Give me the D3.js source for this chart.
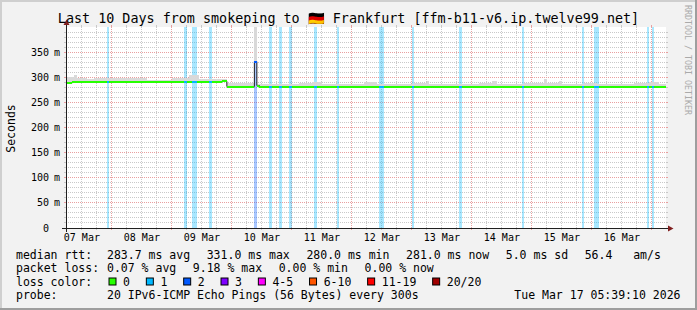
<!DOCTYPE html>
<html><head><meta charset="utf-8">
<script src="https://cdn.jsdelivr.net/npm/d3@7"></script>
<style>
html,body{margin:0;padding:0;background:#f2f2f2;}
svg{display:block;}
text{font-family:"DejaVu Sans Mono",monospace;fill:#000;white-space:pre;}
</style></head><body>
<svg id="c" width="697" height="310"></svg>
<script>
// ---------------- data ----------------
const titleText = "Last 10 Days from smokeping to \u{1F1E9}\u{1F1EA} Frankfurt [ffm-b11-v6.ip.twelve99.net]";
const yAxisTitle = "Seconds";
const watermark = "RRDTOOL / TOBI OETIKER";
const endTime = "2026-03-17T05:39:10Z";
const spanDays = 10;
const firstBin = "2026-03-07T05:00:00Z";   // hourly bins
const yTicks = [0, 50, 100, 150, 200, 250, 300, 350];
const yTickUnit = "m";

// median rtt per hourly bin (ms)
const median = [
288,288,288,290,290,290,290,290,290,290,290,290,290,290,290,290,290,290,290,290,
290,290,290,290,290,290,290,290,290,290,290,290,290,290,290,290,290,290,290,290,
290,290,290,290,290,290,290,290,290,290,290,290,290,290,290,290,290,290,290,290,
290,290,290,292,292,281.5,281.5,281.5,281.5,281.5,281.5,281.5,281.5,281.5,281.5,281.5,331,283.5,281.5,281.5,
281.5,281.5,281.5,281.5,281.5,281.5,281.5,281.5,281.5,281.5,281.5,281.5,281.5,281.5,281.5,281.5,281.5,281.5,281.5,281.5,
281.5,281.5,281.5,281.5,281.5,281.5,281.5,281.5,280,280,280,280,280,280,281.5,281.5,281.5,280,280,280,
280,280,280,281.5,281.5,281.5,281.5,281.5,281.5,281.5,281.5,281.5,280,281.5,281.5,281.5,281.5,281.5,281.5,281.5,
281.5,281.5,281.5,281.5,281.5,281.5,281.5,281.5,281.5,281.5,281.5,281.5,281.5,281.5,281.5,281.5,281.5,281.5,281.5,281.5,
281.5,281.5,281.5,281.5,281.5,281.5,281.5,281.5,281.5,281.5,281.5,281.5,281.5,281.5,281.5,281.5,281.5,281.5,281.5,281.5,
281.5,281.5,281.5,281.5,281.5,281.5,281.5,281.5,281.5,281.5,281.5,281.5,281.5,281.5,281.5,281.5,281.5,281.5,281.5,281.5,
281.5,281.5,281.5,281.5,281.5,281.5,281.5,281.5,281.5,281.5,281.5,281.5,281.5,281.5,281.5,281.5,281.5,281.5,281.5,281.5,
281.5,281.5,281.5,281.5,281.5,281.5,281.5,281.5,281.5,281.5,281.5,281.5,281.5,281.5,281.5,281.5,281.5,281.5,281.5,281.5,
281
];
// upper edge of the smoke per hourly bin (ms)
const smokeTop = [
300,300,300,300,304,298,298,298,298,296,296,296,298,298,298,298,298,299,299,299,
299,299,299,299,299,298,298,298,298,298,298,298,298,295,295,295,295,295,295,295,
295,295,295,298,298,298,298,298,298,298,304,304,304,304,296,296,296,296,296,296,
296,296,296,296,296,288,288,288,288,288,288,288,288,288,288,288,460,286.5,286.5,286.5,
286.5,286.5,286.5,286.5,286.5,286.5,286.5,286.5,286.5,286.5,286.5,286.5,286.5,286.5,289,289,289,289,289,290,
290,290,290,286,286,286,286,286,286,286,286,286,286,286,286,286,286,286,286,286,
290,290,290,290,290,286,286,286,286,286,286,286,286,286,286,286,286,286,286,286,
289,289,289,289,289,293,286,286,286,286,286,286,286,286,286,286,286,286,287,287,
287,287,287,287,287,287,289,289,289,289,289,292,292,286,286,286,286,286,286,286,
286,286,286,286,289,289,289,289,289,289,289,289,296,289,289,289,289,289,293,286.5,
286.5,286.5,286.5,286.5,286.5,286.5,286.5,286.5,289,289,289,289,289,286,286,286,286,286,286,286,
286,286,286,286,286,286,286,286,288,288,288,288,288,288,291,291,291,291,286,286,
286
];
// bins with packet loss (index into the hourly arrays) and average lost pings
const lossBins   = [17, 48, 51, 52, 58, 76, 82, 86, 90, 100, 109, 126, 127, 139, 158, 183, 207, 212, 213, 233, 235];
const lossValues = [0.08,0.08,0.08,0.08,0.08,1.84,0.08,0.08,0.08,0.08,0.08,0.08,0.08,0.08,0.08,0.08,0.08,0.08,0.08,0.08,0.08];

const lossLabels = ["0", "1", "2", "3", "4-5", "6-10", "11-19", "20/20"];
const lossLimits = [0, 1, 2, 3, 5, 10, 19, 20];
const lossColors = ["#26ff00", "#00b8ff", "#0059ff", "#7e00ff", "#ff00fe", "#ff5500", "#ff0000", "#a10000"];

const rttLabel = "median rtt:";
const rttStats = ["283.7 ms avg", "331.0 ms max", "280.0 ms min", "281.0 ms now", "5.0 ms sd", "56.4   am/s"];
const lossLabel = "packet loss:";
const lossStats = ["0.07 % avg", "9.18 % max", "0.00 % min", "0.00 % now"];
const colorLabel = "loss color:";
const probeLabel = "probe:";
const probeText = "20 IPv6-ICMP Echo Pings (56 Bytes) every 300s";
const stampText = "Tue Mar 17 05:39:10 2026";

// ---------------- layout ----------------
const W = 697, H = 310;
const X0 = 66, X1 = 666, Y0 = 228, Y1 = 27;
const svg = d3.select("#c");

const end = new Date(endTime);
const start = new Date(+end - spanDays * 864e5);
const x = d3.scaleUtc().domain([start, end]).range([X0, X1]);
const y = d3.scaleLinear().domain([0, 400]).range([Y0, Y1]);
const t0 = new Date(firstBin);
const binT = i => d3.utcHour.offset(t0, i);
const lossClass = v => { for (let j = 0; j < lossLimits.length; j++) if (v <= lossLimits[j]) return j; return lossLimits.length - 1; };
const lossOf = new Map(lossBins.map((b, k) => [b, lossValues[k]]));
const px = v => Math.floor(v) + 0.5;

// background + 3D shade
svg.append("rect").attr("width", W).attr("height", H).attr("fill", "#f2f2f2");
svg.append("rect").attr("x", 0).attr("y", 0).attr("width", W).attr("height", 2).attr("fill", "#cfcfcf");
svg.append("rect").attr("x", 0).attr("y", 0).attr("width", 2).attr("height", H).attr("fill", "#cfcfcf");
svg.append("rect").attr("x", 0).attr("y", H - 2).attr("width", W).attr("height", 2).attr("fill", "#9e9e9e");
svg.append("rect").attr("x", W - 2).attr("y", 0).attr("width", 2).attr("height", H).attr("fill", "#9e9e9e");
// canvas
svg.append("rect").attr("x", X0).attr("y", Y1).attr("width", X1 - X0).attr("height", Y0 - Y1).attr("fill", "#ffffff");

svg.append("defs").append("clipPath").attr("id", "plot")
  .append("rect").attr("x", X0).attr("y", Y1).attr("width", X1 - X0).attr("height", Y0 - Y1);

// ---------------- grid ----------------
const grid = svg.append("g").attr("stroke-width", 1).attr("fill", "none");
const minorCol = "#c9c9c9", majorCol = "#e9a0a0";
function hLine(v, col) {
  const yy = px(y(v));
  grid.append("line").attr("x1", X0).attr("x2", X1).attr("y1", yy).attr("y2", yy).attr("stroke", col).attr("stroke-dasharray", "1,1");
  grid.append("line").attr("x1", X0 - 2).attr("x2", X0).attr("y1", yy).attr("y2", yy).attr("stroke", col);
  grid.append("line").attr("x1", X1).attr("x2", X1 + 2).attr("y1", yy).attr("y2", yy).attr("stroke", col);
}
function vLine(t, col) {
  const xx = px(x(t));
  grid.append("line").attr("x1", xx).attr("x2", xx).attr("y1", Y1).attr("y2", Y0).attr("stroke", col).attr("stroke-dasharray", "1,1");
  grid.append("line").attr("x1", xx).attr("x2", xx).attr("y1", Y0).attr("y2", Y0 + 2).attr("stroke", col);
  grid.append("line").attr("x1", xx).attr("x2", xx).attr("y1", Y1 - 2).attr("y2", Y1).attr("stroke", col);
}
d3.range(10, 400, 10).filter(v => v % 50 !== 0).forEach(v => hLine(v, minorCol));
d3.utcHour.every(6).range(start, end).filter(d => d.getUTCHours() !== 0).forEach(d => vLine(d, minorCol));
yTicks.filter(v => v > 0).forEach(v => hLine(v, majorCol));
d3.utcDay.range(start, end).forEach(d => vLine(d, majorCol));

// ---------------- data layers ----------------
const plot = svg.append("g").attr("clip-path", "url(#plot)");

// loss bars
plot.selectAll("rect.loss").data(lossBins).join("rect").attr("class", "loss")
  .attr("x", b => x(binT(b))).attr("width", b => x(binT(b + 1)) - x(binT(b)))
  .attr("y", Y1).attr("height", Y0 - Y1)
  .attr("fill", (b, k) => lossColors[lossClass(lossValues[k])]).attr("fill-opacity", 0.34)
  .attr("shape-rendering", "crispEdges");

// smoke
const pts = median.map((m, i) => ({ t: binT(i), m, s: smokeTop[i] }));
const ptsEnd = pts.concat([{ t: binT(median.length), m: median[median.length - 1], s: smokeTop[smokeTop.length - 1] }]);
plot.append("path").datum(ptsEnd)
  .attr("d", d3.area().curve(d3.curveStepAfter).x(d => x(d.t)).y0(d => y(d.m)).y1(d => y(d.s)))
  .attr("fill", "#d9d9d9").attr("shape-rendering", "crispEdges");

// thin dark median line (vertical steps)
plot.append("path").datum(ptsEnd)
  .attr("d", d3.line().curve(d3.curveStepAfter).x(d => x(d.t)).y(d => y(d.m)))
  .attr("fill", "none").attr("stroke", "#202020").attr("stroke-width", 1);

// coloured median band per bin
plot.selectAll("rect.med").data(pts).join("rect").attr("class", "med")
  .attr("x", d => x(d.t)).attr("width", (d, i) => x(binT(i + 1)) - x(d.t))
  .attr("y", d => y(d.m) - 1).attr("height", 2)
  .attr("fill", (d, i) => lossColors[lossClass(lossOf.get(i) || 0)])
  .attr("shape-rendering", "crispEdges");

// ---------------- axes ----------------
const axisCol = "#1f1f1f", arrowCol = "#801f1f";
svg.append("line").attr("x1", X0 - 4).attr("x2", X1 + 4).attr("y1", px(Y0)).attr("y2", px(Y0)).attr("stroke", axisCol);
svg.append("line").attr("x1", px(X0)).attr("x2", px(X0)).attr("y1", Y0 + 4).attr("y2", Y1 - 4).attr("stroke", axisCol);
svg.append("path").attr("d", `M${X1 + 2},${Y0 - 2.5}L${X1 + 7.5},${Y0 + 0.5}L${X1 + 2},${Y0 + 3.5}Z`).attr("fill", arrowCol);
svg.append("path").attr("d", `M${X0 - 2.5},${Y1 - 2}L${X0 + 0.5},${Y1 - 7.5}L${X0 + 3.5},${Y1 - 2}Z`).attr("fill", arrowCol);

// x labels (centred at noon)
const fmt = d3.utcFormat("%d %b");
d3.utcDay.range(d3.utcDay.floor(start), end).forEach(d => {
  const noon = d3.utcHour.offset(d, 12);
  if (noon < start || noon > end) return;
  svg.append("text").attr("x", x(noon)).attr("y", 241).attr("text-anchor", "middle")
    .attr("font-size", "10px").text(fmt(noon));
});
// y labels
yTicks.forEach(v => {
  const yy = y(v) + 3.5;
  svg.append("text").attr("x", 49).attr("y", yy).attr("text-anchor", "end").attr("font-size", "10px").text(v);
  if (v !== 0) svg.append("text").attr("x", 54).attr("y", yy).attr("font-size", "10px").text(yTickUnit);
});
svg.append("text").attr("transform", "translate(15,128.5) rotate(-90)").attr("text-anchor", "middle")
  .attr("font-size", "11.5px").text(yAxisTitle);

// title
svg.append("text").attr("x", 348.5).attr("y", 23).attr("text-anchor", "middle").attr("font-size", "13.4px").text(titleText);
// watermark
svg.append("text").attr("transform", "translate(685,5) rotate(90)").attr("font-size", "8.3px")
  .style("fill", "#aaaaaa").text(watermark);

// ---------------- legend ----------------
const LF = "11.5px", colX = 107, gap = 16.6;
const rows = [258.5, 272, 285.5, 299];
function txt(xx, yy, s, anchor) {
  return svg.append("text").attr("x", xx).attr("y", yy).attr("font-size", LF)
    .attr("xml:space", "preserve").attr("text-anchor", anchor || "start").text(s);
}
txt(16, rows[0], rttLabel);
let cx = colX;
rttStats.forEach(s => { const n = txt(cx, rows[0], s); cx += n.node().getComputedTextLength() + gap; });
txt(16, rows[1], lossLabel);
cx = colX;
lossStats.forEach(s => { const n = txt(cx, rows[1], s); cx += n.node().getComputedTextLength() + gap; });
txt(16, rows[2], colorLabel);
cx = 108.5;
lossLabels.forEach((s, j) => {
  svg.append("rect").attr("x", cx + 0.5).attr("y", rows[2] - 7.5).attr("width", 7).attr("height", 7)
    .attr("fill", lossColors[j]).attr("stroke", "#000").attr("stroke-width", 1);
  const n = txt(cx + 14.6, rows[2], s);
  cx += 14.6 + n.node().getComputedTextLength() + 15.8;
});
txt(16, rows[3], probeLabel);
txt(colX, rows[3], probeText);
txt(680.5, rows[3], stampText, "end");
</script>
</body></html>
